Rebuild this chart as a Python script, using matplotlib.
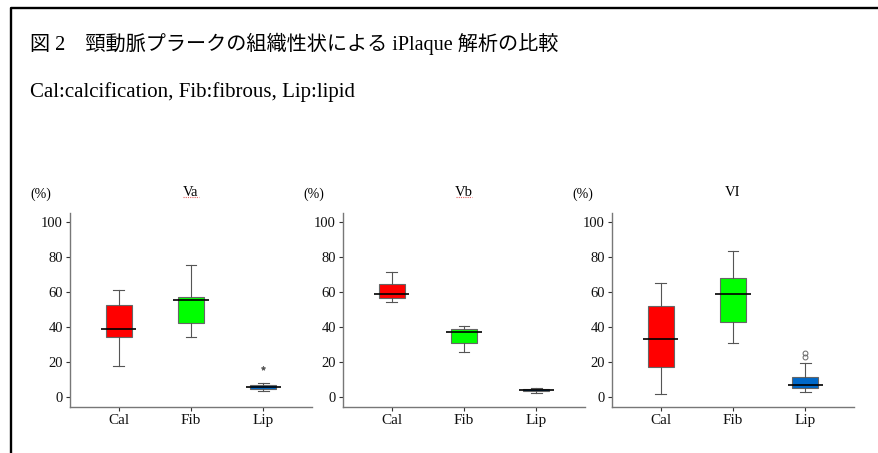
import numpy as np
import matplotlib
matplotlib.use("Agg")
import matplotlib.pyplot as plt
from matplotlib.lines import Line2D

plt.rcParams['font.family'] = ['Liberation Serif', 'Noto Sans CJK JP', 'DejaVu Sans']

# data
categories = ['Cal', 'Fib', 'Lip']
box_colors = ['#ff0000', '#00ff00', '#0068c8']
panel_titles = ['Va', 'Vb', 'VI']

va_low = [17.5, 34.0, 3.5]
va_q1 = [34.0, 42.5, 4.5]
va_med = [39.0, 55.5, 5.5]
va_q3 = [52.5, 57.0, 7.0]
va_high = [61.0, 75.5, 8.0]
va_out = [[], [], [16.5]]

vb_low = [54.5, 25.5, 2.5]
vb_q1 = [56.5, 31.0, 3.5]
vb_med = [59.0, 37.0, 4.0]
vb_q3 = [64.5, 39.0, 4.5]
vb_high = [71.5, 40.5, 5.0]
vb_out = [[], [], []]

vl_low = [2.0, 31.0, 3.0]
vl_q1 = [17.0, 43.0, 5.0]
vl_med = [33.0, 59.0, 7.0]
vl_q3 = [52.0, 68.0, 11.5]
vl_high = [65.0, 83.5, 19.5]
vl_out = [[], [], [25.0, 23.0]]

yticks = [0, 20, 40, 60, 80, 100]

panels = [
    (va_low, va_q1, va_med, va_q3, va_high, va_out, '*'),
    (vb_low, vb_q1, vb_med, vb_q3, vb_high, vb_out, 'o'),
    (vl_low, vl_q1, vl_med, vl_q3, vl_high, vl_out, 'o'),
]
# the spell-check squiggle under Va and Vb in the source image
squiggle = [True, True, False]

W, H = 879, 453
fig = plt.figure(figsize=(W / 100, H / 100), dpi=100)

# frame round the figure (top and left only are visible)
fig.add_artist(Line2D([11 / W, 11 / W, 1.0], [0.0, 1 - 8 / H, 1 - 8 / H],
                      transform=fig.transFigure, color='black', lw=1.7))

fig.text(30 / W, 1 - 50 / H, '図 2\u3000頸動脈プラークの組織性状による iPlaque 解析の比較',
         fontsize=14.5, ha='left', va='baseline')
fig.text(30 / W, 1 - 97 / H, 'Cal:calcification, Fib:fibrous, Lip:lipid',
         fontsize=15, ha='left', va='baseline')

lefts = [70, 343, 612]
width_px = 242
bottom_px, top_px = 407, 213

for i, (low, q1, med, q3, high, out, fmark) in enumerate(panels):
    ax = fig.add_axes([lefts[i] / W, 1 - bottom_px / H,
                       width_px / W, (bottom_px - top_px) / H])
    stats = []
    for k in range(3):
        stats.append(dict(whislo=low[k], q1=q1[k], med=med[k], q3=q3[k],
                          whishi=high[k], fliers=out[k]))
    pos = np.arange(1, 4)
    bp = ax.bxp(stats, positions=pos, widths=0.36, capwidths=0.14,
                patch_artist=True, showfliers=True,
                boxprops=dict(edgecolor='#666666', linewidth=0.8),
                whiskerprops=dict(color='#555555', linewidth=0.8),
                capprops=dict(color='#555555', linewidth=0.8),
                medianprops=dict(visible=False),
                flierprops=dict(marker=fmark, markersize=3.5 if fmark == 'o' else 3,
                                markerfacecolor='none' if fmark == 'o' else '#333333',
                                markeredgecolor='#666666', markeredgewidth=0.7))
    for patch, c in zip(bp['boxes'], box_colors):
        patch.set_facecolor(c)
    ax.hlines(med, pos - 0.245, pos + 0.245, color='black', lw=1.2, zorder=4)

    ax.set_xlim(0.33, 3.67)
    ax.set_ylim(-5.7, 105)
    ax.set_xticks(pos)
    ax.set_xticklabels(categories, fontsize=11)
    ax.set_yticks(yticks)
    ax.set_yticklabels([str(t) for t in yticks], fontsize=10.5)
    for side in ['top', 'right']:
        ax.spines[side].set_visible(False)
    for side in ['left', 'bottom']:
        ax.spines[side].set_color('#777777')
        ax.spines[side].set_linewidth(1.0)
    ax.tick_params(length=3, width=0.8, color='#333333', pad=2, labelcolor='#111111')
    ax.set_title(panel_titles[i], fontsize=10.5, pad=12)
    if squiggle[i]:
        ax.plot([0.465, 0.535], [1.085, 1.085], transform=ax.transAxes,
                color='#e06060', lw=0.8, ls=(0, (1, 1)), clip_on=False)
    ax.text(-0.12, 1.06, '(%)', transform=ax.transAxes, fontsize=10,
            ha='center', va='bottom')

fig.savefig('out.png', dpi=100)
